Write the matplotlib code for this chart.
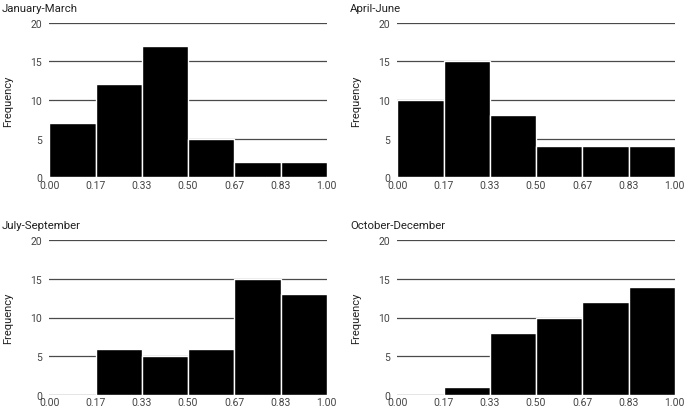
import matplotlib
matplotlib.use("Agg")
import matplotlib.pyplot as plt
import numpy as np

plt.rcParams['font.family'] = ['Roboto', 'DejaVu Sans']

bin_edges = [0.0, 1/6, 2/6, 3/6, 4/6, 5/6, 1.0]
tick_labels = ["0.00", "0.17", "0.33", "0.50", "0.67", "0.83", "1.00"]
titles = ["January-March", "April-June", "July-September", "October-December"]
jan_mar = [7, 12, 17, 5, 2, 2]
apr_jun = [10, 15, 8, 4, 4, 4]
jul_sep = [0, 6, 5, 6, 15, 13]
oct_dec = [0, 1, 8, 10, 12, 14]
series = [jan_mar, apr_jun, jul_sep, oct_dec]
y_ticks = [0, 5, 10, 15, 20]

fig = plt.figure(figsize=(6.85, 4.10), dpi=100)
W, H = 685, 410
lefts = [49.3, 397.3]
tops = [23.5, 241]
bottoms = [178.3, 396]
width_px = 277.5

for i, (title, vals) in enumerate(zip(titles, series)):
    r, c = divmod(i, 2)
    l = lefts[c] / W
    b = 1 - bottoms[r] / H
    h = (bottoms[r] - tops[r]) / H
    ax = fig.add_axes([l, b, width_px / W, h])
    for y in y_ticks:
        ax.axhline(y, color='#333333' if y == 0 else '#4a4a4a', lw=0.9, zorder=1)
    lefts_b = bin_edges[:-1]
    widths = np.diff(bin_edges)
    for x0, w, v in zip(lefts_b, widths, vals):
        if v > 0:
            ax.bar(x0, v, width=w, align='edge', color='black', edgecolor='white', linewidth=1.0, zorder=2)
    ax.set_xlim(0, 1)
    ax.set_ylim(0, 20)
    ax.set_xticks(bin_edges)
    ax.set_xticklabels(tick_labels)
    ax.set_yticks(y_ticks)
    ax.tick_params(axis='both', length=0, labelsize=7.5, colors='#444444')
    ax.tick_params(axis='x', pad=1.8)
    ax.tick_params(axis='y', pad=5)
    for lab in ax.get_yticklabels():
        lab.set_va('center_baseline')
    for s in ax.spines.values():
        s.set_visible(False)
    ax.set_ylabel("Frequency", fontsize=8, color='#222222', va='center')
    ax.yaxis.set_label_coords((8.5 + c * 348 - lefts[c]) / width_px, 0.5)
    fig.text((2 + c * 348) / W, 1 - (tops[r] - 15) / H, title, fontsize=8.2, color='#222222',
             ha='left', va='center')

fig.savefig("out.png", dpi=100)
